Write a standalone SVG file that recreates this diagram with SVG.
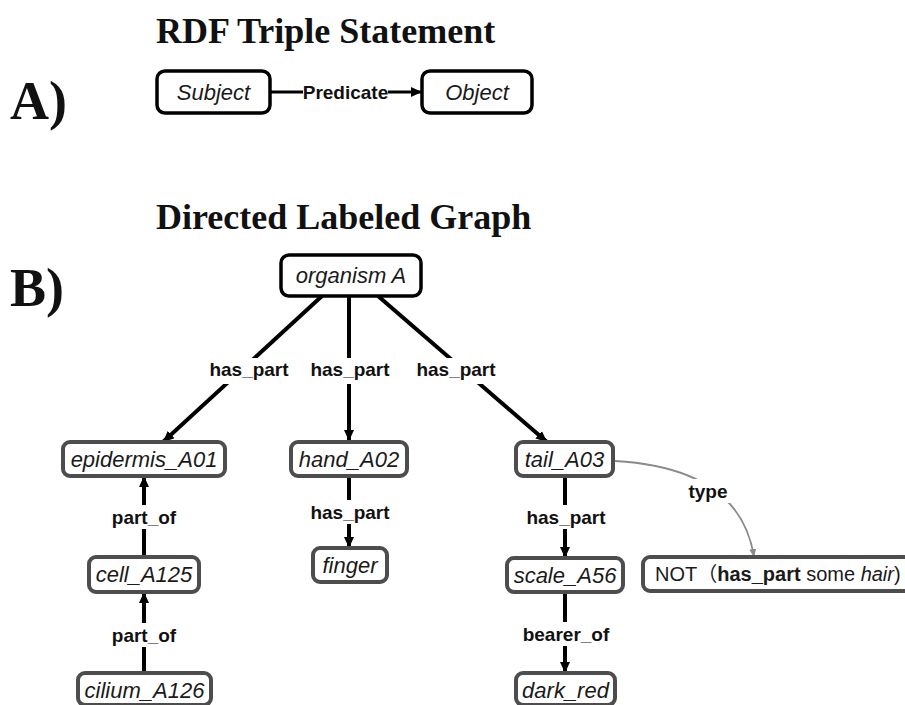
<svg xmlns="http://www.w3.org/2000/svg" width="905" height="705" viewBox="0 0 905 705">
  <defs>
    <style>
      .title { font-family: "Liberation Serif", "Times New Roman", serif; font-weight: bold; font-size: 36px; fill: #111; }
      .panel { font-family: "Liberation Serif", "Times New Roman", serif; font-weight: bold; font-size: 54px; fill: #111; }
      .nlabel { font-family: "Liberation Sans", Arial, sans-serif; font-style: italic; font-size: 22px; text-anchor: middle; fill: #1a1a1a; }
      .elabel { font-family: "Liberation Sans", Arial, sans-serif; font-weight: bold; font-size: 19px; text-anchor: middle; fill: #111; }
      .box-a { fill: #fff; stroke: #000; stroke-width: 3.5; }
      .box-b { fill: #fff; stroke: #4d4d4d; stroke-width: 4; }
      .edge { stroke: #000; stroke-width: 4; fill: none; }
      .edge-thin { stroke: #000; stroke-width: 3; fill: none; }
      .edge-type { stroke: #8a8a8a; stroke-width: 1.8; fill: none; }
      .lbg { fill: #fff; }
      .plain { font-family: "Liberation Sans", Arial, "Noto Sans CJK SC", sans-serif; font-size: 20px; fill: #1a1a1a; }
    </style>
    <marker id="arrow" markerUnits="userSpaceOnUse" markerWidth="11" markerHeight="10" refX="11" refY="5" orient="auto">
      <path d="M0,0 L11,5 L0,10 z" fill="#000"/>
    </marker>
    <marker id="arrow-grey" markerUnits="userSpaceOnUse" markerWidth="8" markerHeight="7" refX="8" refY="3.5" orient="auto">
      <path d="M0,0 L8,3.5 L0,7 z" fill="#8a8a8a"/>
    </marker>
  </defs>

  <rect width="905" height="705" fill="#fff"/>

  <!-- headings -->
  <text class="panel" x="10" y="119">A)</text>
  <text class="title" x="156" y="43">RDF Triple Statement</text>
  <text class="panel" x="10" y="306">B)</text>
  <text class="title" x="156" y="229">Directed Labeled Graph</text>

  <!-- connectors -->
  <g id="connectors">
    <line class="edge-thin" x1="270" y1="92" x2="422" y2="92" marker-end="url(#arrow)"/>

    <line class="edge" x1="322" y1="296" x2="163" y2="442" marker-end="url(#arrow)"/>
    <line class="edge" x1="349" y1="296" x2="349" y2="441" marker-end="url(#arrow)"/>
    <line class="edge" x1="378" y1="296" x2="547" y2="442" marker-end="url(#arrow)"/>

    <line class="edge" x1="349" y1="476" x2="349" y2="548" marker-end="url(#arrow)"/>
    <line class="edge" x1="144" y1="557" x2="144" y2="476" marker-end="url(#arrow)"/>
    <line class="edge" x1="144" y1="673" x2="144" y2="592" marker-end="url(#arrow)"/>
    <line class="edge" x1="565" y1="476" x2="565" y2="558" marker-end="url(#arrow)"/>
    <line class="edge" x1="565" y1="592" x2="565" y2="673" marker-end="url(#arrow)"/>

    <path class="edge-type" d="M615,461 Q740,468 754,557" marker-end="url(#arrow-grey)"/>

    <!-- edge labels -->
    <rect class="lbg" x="303" y="83" width="85" height="18"/>
    <text class="elabel" x="345.5" y="99">Predicate</text>

    <rect class="lbg" x="207" y="358" width="85" height="26"/>
    <text class="elabel" x="249" y="376">has_part</text>
    <rect class="lbg" x="308" y="358" width="85" height="26"/>
    <text class="elabel" x="350" y="376">has_part</text>
    <rect class="lbg" x="414" y="358" width="85" height="26"/>
    <text class="elabel" x="456" y="376">has_part</text>

    <rect class="lbg" x="308" y="500" width="85" height="24"/>
    <text class="elabel" x="350" y="519">has_part</text>
    <rect class="lbg" x="110" y="505" width="68" height="24"/>
    <text class="elabel" x="144" y="524">part_of</text>
    <rect class="lbg" x="110" y="623" width="68" height="24"/>
    <text class="elabel" x="144" y="642">part_of</text>
    <rect class="lbg" x="524" y="505" width="85" height="24"/>
    <text class="elabel" x="566" y="524">has_part</text>
    <rect class="lbg" x="521" y="622" width="91" height="24"/>
    <text class="elabel" x="566" y="641">bearer_of</text>
    <rect class="lbg" x="687" y="479" width="43" height="24"/>
    <text class="elabel" x="708" y="498">type</text>
  </g>

  <!-- nodes -->
  <g id="subject">
    <rect class="box-a" x="157" y="71" width="113" height="42" rx="8"/>
    <text class="nlabel" x="213.5" y="100">Subject</text>
  </g>
  <g id="object">
    <rect class="box-a" x="422" y="71" width="110" height="42" rx="8"/>
    <text class="nlabel" x="477" y="100">Object</text>
  </g>

  <g id="organism-a">
    <rect class="box-a" x="281" y="255" width="140" height="41" rx="8"/>
    <text class="nlabel" x="351" y="283">organism A</text>
  </g>
  <g id="epidermis-a01">
    <rect class="box-b" x="63" y="442" width="162" height="34" rx="7"/>
    <text class="nlabel" x="144" y="467">epidermis_A01</text>
  </g>
  <g id="hand-a02">
    <rect class="box-b" x="291" y="442" width="116" height="34" rx="7"/>
    <text class="nlabel" x="349" y="467">hand_A02</text>
  </g>
  <g id="tail-a03">
    <rect class="box-b" x="516" y="442" width="97" height="34" rx="7"/>
    <text class="nlabel" x="564.5" y="467">tail_A03</text>
  </g>
  <g id="finger">
    <rect class="box-b" x="313" y="548" width="74" height="34" rx="7"/>
    <text class="nlabel" x="350" y="573">finger</text>
  </g>
  <g id="cell-a125">
    <rect class="box-b" x="89" y="557" width="110" height="35" rx="7"/>
    <text class="nlabel" x="144" y="582">cell_A125</text>
  </g>
  <g id="cilium-a126">
    <rect class="box-b" x="78" y="673" width="133" height="32" rx="7"/>
    <text class="nlabel" x="144.5" y="698">cilium_A126</text>
  </g>
  <g id="scale-a56">
    <rect class="box-b" x="507" y="558" width="116" height="34" rx="7"/>
    <text class="nlabel" x="565" y="583">scale_A56</text>
  </g>
  <g id="dark-red">
    <rect class="box-b" x="516" y="673" width="99" height="32" rx="7"/>
    <text class="nlabel" x="565.5" y="698">dark_red</text>
  </g>
  <g id="not-has-part-hair">
    <rect class="box-b" x="643" y="557" width="270" height="34" rx="7"/>
    <text class="plain" x="655" y="581">NOT（<tspan font-weight="bold">has_part</tspan> some <tspan font-style="italic">hair</tspan>)</text>
  </g>
</svg>
